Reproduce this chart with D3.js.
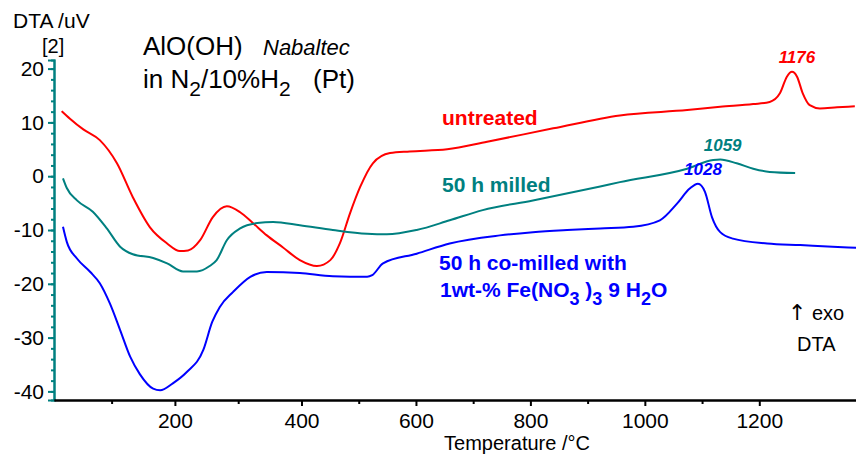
<!DOCTYPE html>
<html>
<head>
<meta charset="utf-8">
<script src="https://cdn.jsdelivr.net/npm/d3@7"></script>
<style>
  body { margin: 0; background: #fff; }
  text { font-family: "Liberation Sans", Arial, sans-serif; }
</style>
</head>
<body>
<svg id="chart" width="856" height="454"></svg>
<script>
// temperatures in °C, DTA signal in uV
var redT = [26, 39, 60, 86, 113, 138, 165, 192, 212, 225, 244, 264, 286, 307, 327, 349, 374, 401, 428, 449, 464, 480, 496, 516, 543, 574, 633, 696, 800, 905, 1011, 1063, 1115, 1141, 1157, 1168, 1176, 1184, 1193, 1204, 1220, 1247, 1275];
var redV = [12.1, 10.7, 8.7, 6.7, 2.4, -3.9, -9.5, -12.5, -13.9, -13.8, -11.9, -7.6, -5.6, -6.7, -8.7, -11, -13.2, -15.6, -16.7, -15.6, -12.5, -6.9, -2, 2.4, 4.3, 4.6, 5.0, 6.4, 8.9, 11.3, 12.3, 12.9, 13.4, 13.8, 15.4, 18.5, 19.4, 18.5, 15.4, 13.2, 12.6, 12.8, 13];

var tealT = [28, 34, 50, 75, 97, 118, 138, 170, 192, 217, 239, 259, 270, 286, 307, 334, 359, 401, 453, 507, 538, 585, 637, 689, 768, 874, 905, 1011, 1052, 1063, 1089, 1115, 1141, 1181];
var tealV = [-0.4, -2.2, -4.5, -6.6, -9.7, -13.1, -14.5, -15.2, -16.2, -17.7, -17.7, -16.7, -15.6, -11.9, -9.7, -8.7, -8.5, -9.1, -10, -10.7, -10.8, -10, -8.2, -6.3, -4.5, -1.9, -1.1, 1.4, 3, 3.1, 2.4, 1.4, 0.8, 0.6];

var blueT = [28, 34, 50, 71, 86, 102, 118, 134, 149, 170, 181, 201, 223, 249, 263, 275, 296, 323, 349, 401, 453, 507, 515, 532, 585, 637, 716, 768, 822, 874, 926, 968, 995, 1015, 1028, 1039, 1050, 1063, 1083, 1137, 1189, 1240, 1277];
var blueV = [-9.4, -12.2, -15.3, -17.8, -19.9, -23.7, -28.6, -33.6, -36.8, -39.5, -39.8, -38.5, -36.4, -32.3, -27.1, -24.3, -21.5, -18.7, -17.8, -18, -18.6, -18.7, -18.4, -16.2, -14.4, -12.5, -11, -10.4, -10, -9.7, -9.4, -8.2, -5.1, -2.3, -1.4, -2.9, -7.6, -10.4, -11.6, -12.5, -12.8, -13.1, -13.3];

var peaks = [
  {t: 1176, v: 19.4, label: "1176", color: "#ff0000"},
  {t: 1059, v: 3.1, label: "1059", color: "#008080"},
  {t: 1028, v: -1.4, label: "1028", color: "#0000ff"}
];

var xMajor = [200, 400, 600, 800, 1000, 1200];
var xMinor = [100, 300, 500, 700, 900, 1100];
var yMajor = [-40, -30, -20, -10, 0, 10, 20];
var yMinor = d3.range(-40, 21, 2);

var svg = d3.select("#chart");

// curves scale (true temperature)
var x = d3.scaleLinear().domain([0, 1300]).range([45.2, 45.2 + 0.635 * 1300]);
// the printed axis in the picture is squeezed above 400 °C
var xAxisScale = d3.scaleLinear().domain([9, 400, 1369]).range([54, 301.5, 856]);
var y = d3.scaleLinear().domain([-41.6, 21.6]).range([400, 60]);

function zip(ts, vs) { return ts.map(function(t, i) { return [t, vs[i]]; }); }
function plain(d) { return String(d); }

var line = d3.line()
  .x(function(d) { return x(d[0]); })
  .y(function(d) { return y(d[1]); })
  .curve(d3.curveMonotoneX);

// y axis
var ya = svg.append("g").attr("transform", "translate(54,0)");
ya.call(d3.axisLeft(y).tickValues(yMinor).tickSize(3).tickFormat(""));
ya.append("g").call(d3.axisLeft(y).tickValues(yMajor).tickSize(6).tickPadding(4).tickFormat(plain));
ya.selectAll("path.domain").attr("stroke", "#008080").attr("stroke-width", 2);
ya.selectAll("line").attr("stroke", "#008080").attr("stroke-width", 2);
ya.selectAll("text").attr("fill", "#000").style("font-size", "21px").attr("font-family", null);

// x axis
var xa = svg.append("g").attr("transform", "translate(0,400)");
xa.call(d3.axisBottom(xAxisScale).tickValues(xMinor).tickSize(4).tickSizeOuter(0).tickFormat(""));
xa.append("g").call(d3.axisBottom(xAxisScale).tickValues(xMajor).tickSize(6).tickSizeOuter(0).tickPadding(7).tickFormat(plain));
xa.selectAll("path.domain").attr("stroke", "#000").attr("stroke-width", 2);
xa.selectAll("line").attr("stroke", "#000").attr("stroke-width", 2);
xa.selectAll("text").attr("fill", "#000").style("font-size", "21px").attr("font-family", null);

// curves
[[redT, redV, "#ff0000"], [tealT, tealV, "#008080"], [blueT, blueV, "#0000ff"]].forEach(function(s) {
  svg.append("path")
    .attr("d", line(zip(s[0], s[1])))
    .attr("fill", "none")
    .attr("stroke", s[2])
    .attr("stroke-width", 2);
});

// peak labels
svg.selectAll(".peak").data(peaks).enter().append("text")
  .attr("x", function(d) { return x(d.t) + 5; })
  .attr("y", function(d) { return y(d.v) - 9; })
  .attr("text-anchor", "middle")
  .attr("fill", function(d) { return d.color; })
  .style("font-size", "17px").style("font-weight", "bold").style("font-style", "italic")
  .text(function(d) { return d.label; });

// axis titles
svg.append("text").attr("x", 13).attr("y", 28).style("font-size", "21px").text("DTA /uV");
svg.append("text").attr("x", 42).attr("y", 53).style("font-size", "20px").text("[2]");
svg.append("text").attr("x", 517).attr("y", 450).attr("text-anchor", "middle").style("font-size", "20px").text("Temperature /°C");

// title
var t1 = svg.append("text").attr("y", 55).style("font-size", "26px");
t1.append("tspan").attr("x", 143).text("AlO(OH)");
t1.append("tspan").attr("x", 263).style("font-style", "italic").style("font-size", "22px").text("Nabaltec");
var t2 = svg.append("text").attr("y", 88).style("font-size", "26px");
t2.append("tspan").attr("x", 143).text("in N");
t2.append("tspan").attr("dy", 8).style("font-size", "21px").text("2");
t2.append("tspan").attr("dy", -8).text("/10%H");
t2.append("tspan").attr("dy", 8).style("font-size", "21px").text("2");
t2.append("tspan").attr("dy", -8).attr("x", 313).text("(Pt)");

// curve names
svg.append("text").attr("x", 442).attr("y", 125).attr("fill", "#ff0000")
  .style("font-size", "21px").style("font-weight", "bold").text("untreated");
svg.append("text").attr("x", 442).attr("y", 192).attr("fill", "#008080")
  .style("font-size", "21px").style("font-weight", "bold").text("50 h milled");
svg.append("text").attr("x", 439).attr("y", 270).attr("fill", "#0000ff")
  .style("font-size", "21px").style("font-weight", "bold").text("50 h co-milled with");
var b2 = svg.append("text").attr("x", 440).attr("y", 297).attr("fill", "#0000ff")
  .style("font-size", "21px").style("font-weight", "bold");
b2.append("tspan").text("1wt-% Fe(NO");
b2.append("tspan").attr("dy", 8).style("font-size", "18px").text("3");
b2.append("tspan").attr("dy", -8).text(" )");
b2.append("tspan").attr("dy", 8).style("font-size", "18px").text("3");
b2.append("tspan").attr("dy", -8).text(" 9 H");
b2.append("tspan").attr("dy", 8).style("font-size", "18px").text("2");
b2.append("tspan").attr("dy", -8).text("O");

// exo marker
var ex = svg.append("text").attr("x", 788).attr("y", 320).style("font-size", "20px");
ex.append("tspan").style("font-family", "DejaVu Sans").style("font-size", "22px").text("↑");
ex.append("tspan").text(" exo");
svg.append("text").attr("x", 797).attr("y", 351).style("font-size", "20px").text("DTA");
</script>
</body>
</html>
